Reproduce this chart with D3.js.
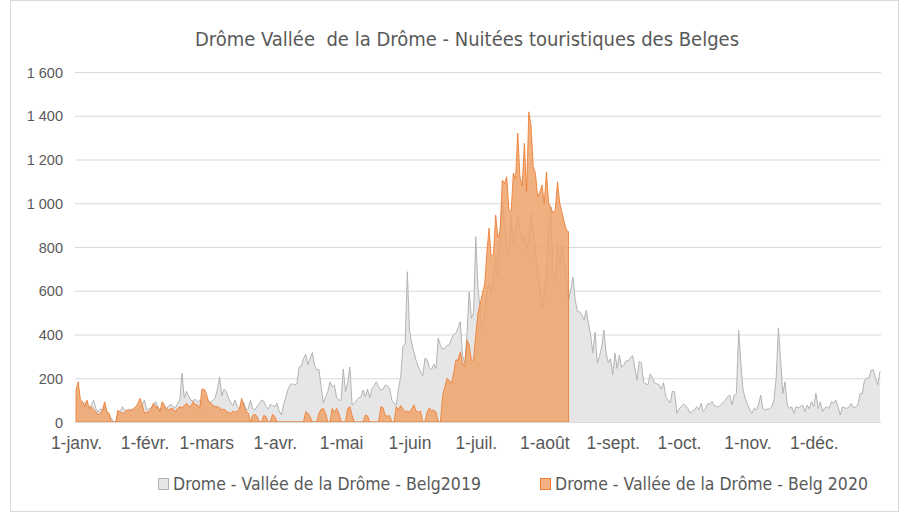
<!DOCTYPE html>
<html>
<head>
<meta charset="utf-8">
<script src="https://cdn.jsdelivr.net/npm/d3@7.9.0/dist/d3.min.js"></script>
<style>
  body { margin: 0; background: #fff; }
  svg { display: block; font-family: "Liberation Sans Narrow", "Arial Narrow", "DejaVu Sans Condensed", sans-serif; }
  .tick text { fill: #595959; }
</style>
</head>
<body>
<svg id="chart" width="910" height="513"></svg>
<script>
// nuitées par jour, 1er janvier -> 31 décembre
const belg2019 = [
  115, 95, 85, 80, 90, 75, 65, 80, 100, 60,
  45, 60, 55, 78, 40, 30, 17, 0, 0, 40,
  45, 70, 55, 50, 60, 55, 50, 60, 55, 70,
  80, 100, 55, 60, 65, 70, 93, 70, 55, 60,
  70, 60, 75, 80, 70, 65, 85, 100, 224, 110,
  140, 120, 100, 95, 105, 90, 100, 80, 120, 110,
  95, 90, 100, 110, 150, 207, 120, 150, 140, 110,
  90, 75, 100, 70, 60, 80, 90, 55, 60, 100,
  60, 55, 70, 85, 100, 95, 70, 60, 80, 75,
  70, 86, 50, 32, 80, 115, 150, 170, 175, 170,
  175, 250, 255, 290, 310, 262, 290, 317, 260, 238,
  240, 160, 87, 115, 139, 184, 160, 170, 110, 100,
  100, 242, 139, 180, 251, 78, 85, 100, 110, 115,
  146, 115, 150, 110, 152, 165, 184, 160, 146, 150,
  169, 165, 154, 100, 86, 78, 150, 207, 344, 357,
  687, 420, 357, 320, 280, 253, 230, 210, 292, 285,
  250, 240, 265, 245, 384, 350, 333, 337, 350, 353,
  380, 400, 406, 430, 459, 306, 269, 400, 596, 474,
  500, 847, 612, 512, 413, 500, 596, 634, 588, 680,
  756, 665, 878, 1007, 900, 801, 763, 946, 816, 870,
  940, 880, 825, 855, 795, 830, 955, 878, 770, 681,
  620, 521, 600, 681, 878, 984, 681, 643, 825, 711,
  810, 740, 666, 558, 603, 663, 560, 504, 504, 490,
  466, 510, 450, 398, 315, 410, 270, 300, 344, 420,
  315, 270, 290, 215, 315, 245, 306, 250, 260, 280,
  280, 295, 303, 250, 192, 277, 270, 180, 175, 170,
  220, 200, 178, 175, 170, 150, 180, 116, 100, 87,
  140, 140, 40, 60, 70, 82, 75, 62, 40, 50,
  55, 70, 55, 85, 48, 60, 85, 80, 93, 75,
  70, 70, 80, 90, 100, 116, 123, 78, 123, 130,
  420, 270, 146, 108, 80, 55, 40, 62, 55, 80,
  123, 62, 55, 60, 60, 70, 100, 200, 430, 285,
  130, 184, 78, 62, 70, 40, 70, 65, 70, 78,
  48, 78, 60, 93, 70, 131, 62, 93, 48, 65,
  70, 62, 93, 85, 100, 70, 32, 70, 65, 62,
  70, 85, 65, 70, 78, 131, 131, 192, 200, 200,
  238, 238, 200, 170, 230
];

const belg2020 = [
  146, 184, 100, 93, 70, 100, 62, 70, 55, 47,
  32, 40, 55, 93, 47, 40, 0, 0, 0, 55,
  45, 40, 45, 55, 50, 55, 62, 70, 85, 108,
  78, 40, 45, 47, 60, 85, 70, 70, 47, 93,
  78, 60, 55, 62, 60, 47, 62, 70, 65, 75,
  85, 75, 70, 93, 80, 78, 62, 150, 150, 131,
  93, 85, 78, 70, 70, 65, 55, 60, 50, 45,
  40, 50, 45, 50, 60, 108, 75, 50, 40, 0,
  30, 35, 25, 0, 0, 30, 25, 0, 0, 35,
  25, 0, 0, 0, 0, 0, 0, 0, 0, 0,
  0, 0, 0, 0, 47, 40, 24, 0, 0, 0,
  40, 58, 62, 40, 0, 0, 62, 43, 62, 40,
  0, 0, 0, 62, 70, 30, 0, 0, 0, 0,
  0, 32, 28, 0, 0, 0, 0, 0, 70, 65,
  29, 27, 29, 0, 0, 70, 55, 75, 60, 45,
  50, 45, 60, 78, 50, 45, 50, 0, 0, 45,
  65, 50, 55, 45, 0, 0, 123, 161, 200, 190,
  177, 224, 283, 283, 321, 270, 253, 375, 352, 283,
  283, 400, 498, 540, 589, 627, 772, 886, 757, 765,
  946, 845, 868, 1106, 1090, 1121, 969, 961, 1138, 1110,
  1321, 1120, 1080, 1275, 1053, 1418, 1357, 1167, 1137, 1030,
  1050, 1084, 1000, 1144, 1000, 980, 955, 969, 1098, 1000,
  960, 915, 878, 870
];

const yTicks = [0, 200, 400, 600, 800, 1000, 1200, 1400, 1600];
const monthLabels = ['1-janv.', '1-févr.', '1-mars', '1-avr.', '1-mai', '1-juin',
  '1-juil.', '1-août', '1-sept.', '1-oct.', '1-nov.', '1-déc.'];
const seriesNames = ['Drome - Vallée de la Drôme - Belg2019', 'Drome - Vallée de la Drôme - Belg 2020'];
const title = 'Drôme Vallée\u00a0 de la Drôme - Nuitées touristiques des Belges';

const svg = d3.select('#chart');
const start = new Date(2019, 0, 1);
const day = i => d3.timeDay.offset(start, i);

const x = d3.scaleTime().domain([start, new Date(2019, 11, 31)]).range([76, 880]);
const y = d3.scaleLinear().domain([0, 1600]).range([422, 72]);

// cadre
svg.append('rect').attr('x', 10.5).attr('y', 0.5).attr('width', 888).attr('height', 511)
  .attr('fill', 'none').attr('stroke', '#d9d9d9');

// titre
svg.append('text').attr('x', 467).attr('y', 46).attr('text-anchor', 'middle')
  .attr('font-size', 20).attr('fill', '#595959').text(title);

// grille
svg.append('g').selectAll('line').data(yTicks.slice(1)).join('line')
  .attr('x1', 75).attr('x2', 881)
  .attr('y1', d => y(d) + 0.5).attr('y2', d => y(d) + 0.5)
  .attr('stroke', '#d9d9d9').attr('stroke-width', 1);

const loc = d3.formatLocale({ decimal: ',', thousands: '\u00a0', grouping: [3], currency: ['', ' €'] });
const yAxis = svg.append('g').attr('transform', 'translate(76,0)')
  .call(d3.axisLeft(y).tickValues(yTicks).tickFormat(loc.format(',d')).tickSize(0).tickPadding(13));
yAxis.select('.domain').remove();
yAxis.selectAll('text').attr('font-size', 14.5).attr('dy', '0.35em');

// aires
const area = d3.area()
  .x((d, i) => x(day(i)))
  .y0(y(0))
  .y1(d => y(d));
const line = d3.line()
  .x((d, i) => x(day(i)))
  .y(d => y(d));

svg.append('path').datum(belg2019).attr('d', area).attr('fill', '#e6e6e6');
svg.append('path').datum(belg2019).attr('d', line).attr('fill', 'none')
  .attr('stroke', '#b4b4b4').attr('stroke-width', 1);

svg.append('path').datum(belg2020).attr('d', area).attr('fill', '#EEA26A').attr('fill-opacity', 0.85);
svg.append('path').datum(belg2020).attr('d', area).attr('fill', 'none')
  .attr('stroke', '#ED7D31').attr('stroke-opacity', 0.85).attr('stroke-width', 1);

// axe x
const xAxis = svg.append('g').attr('transform', `translate(0,${y(0)})`)
  .call(d3.axisBottom(x).tickValues(d3.timeMonth.range(start, new Date(2019, 11, 31)))
    .tickFormat((d, i) => monthLabels[i]).tickSize(0).tickPadding(15));
xAxis.select('.domain').attr('stroke', '#d9d9d9').attr('d', 'M75,0.5H881');
xAxis.selectAll('text').attr('font-size', 17.5);

// légende
const legend = svg.append('g').attr('font-size', 17.5).attr('fill', '#595959');
const legendItems = [
  { x: 158, fill: '#e6e6e6', stroke: '#b4b4b4', name: seriesNames[0] },
  { x: 540, fill: '#F4B183', stroke: '#ED7D31', name: seriesNames[1] }
];
legendItems.forEach(it => {
  legend.append('rect').attr('x', it.x + 0.5).attr('y', 478.5).attr('width', 10).attr('height', 11)
    .attr('fill', it.fill).attr('stroke', it.stroke);
  legend.append('text').attr('x', it.x + 15).attr('y', 490).text(it.name);
});
</script>
</body>
</html>
